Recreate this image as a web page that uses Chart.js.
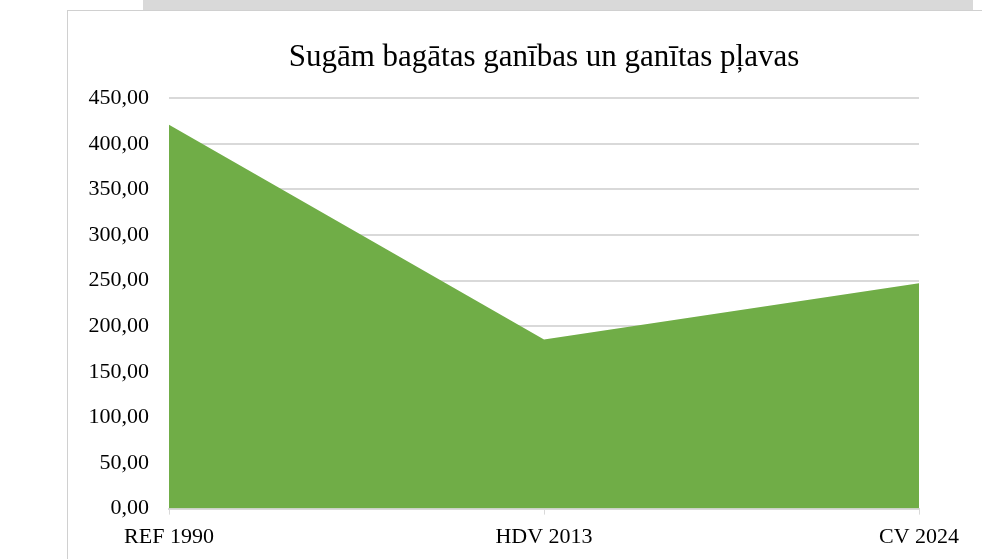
<!DOCTYPE html>
<html>
<head>
<meta charset="utf-8">
<script src="https://cdn.jsdelivr.net/npm/chart.js@4"></script>
<style>
  html, body { margin: 0; padding: 0; background: #fff; }
  body { width: 982px; height: 559px; position: relative; overflow: hidden; }
  .strip { position: absolute; top: 0; left: 143px; width: 830px; height: 10px; background: #d9d9d9; }
  .box { position: absolute; left: 67px; top: 10px; width: 915px; height: 549px;
         border-left: 1px solid #d0d0d0; border-top: 1px solid #d0d0d0; background: #fff; }
  canvas { display: block; }
</style>
</head>
<body>
<div class="strip"></div>
<div class="box"><canvas id="chart" width="914" height="548"></canvas></div>
<script>
const categories = ['REF 1990', 'HDV 2013', 'CV 2024'];
const values = [421, 185.5, 247];
const yTicks = [0, 50, 100, 150, 200, 250, 300, 350, 400, 450];

const serif = "'Liberation Serif', 'DejaVu Serif', serif";

new Chart(document.getElementById('chart'), {
  type: 'line',
  data: {
    labels: categories,
    datasets: [{
      data: values,
      fill: 'origin',
      backgroundColor: '#70AD47',
      borderWidth: 0,
      pointRadius: 0,
      tension: 0
    }]
  },
  options: {
    responsive: false,
    animation: false,
    layout: { padding: { left: 0, right: 63, top: 0, bottom: 0 } },
    plugins: {
      legend: { display: false },
      tooltip: { enabled: false },
      title: {
        display: true,
        text: 'Sugām bagātas ganības un ganītas pļavas',
        fullSize: false,
        color: '#000',
        font: { family: serif, size: 31, weight: 'normal' },
        padding: { top: 28, bottom: 22 }
      }
    },
    scales: {
      x: {
        offset: false,
        grid: { drawOnChartArea: false, drawTicks: true, tickLength: 6, color: '#d9d9d9' },
        border: { color: '#d9d9d9', width: 2 },
        ticks: { color: '#000', font: { family: serif, size: 22 }, padding: 9, maxRotation: 0, autoSkip: false }
      },
      y: {
        min: yTicks[0],
        max: yTicks[yTicks.length - 1],
        afterFit: s => { s.width = 101; },
        afterBuildTicks: s => { s.ticks = yTicks.map(v => ({ value: v })); },
        grid: { color: '#d9d9d9', lineWidth: 2, drawTicks: false },
        border: { display: false },
        ticks: {
          color: '#000',
          font: { family: serif, size: 22 },
          padding: 20,
          callback: v => v.toFixed(2).replace('.', ',')
        }
      }
    }
  }
});
</script>
</body>
</html>
